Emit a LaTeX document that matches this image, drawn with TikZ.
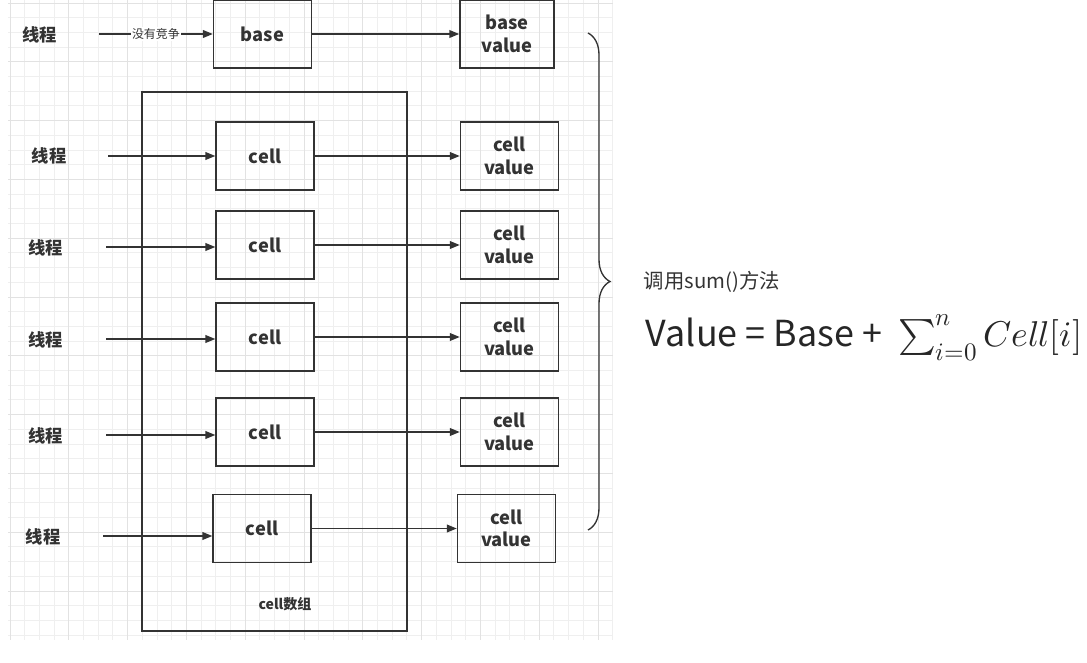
\documentclass[tikz,border=0pt]{standalone}
\usepackage{unicode-math}
\setmainfont{Noto Sans CJK SC}
\setmathfont{Latin Modern Math}
\usetikzlibrary{arrows.meta, decorations.pathreplacing, positioning}
\definecolor{ink}{HTML}{333333}
\definecolor{gridminor}{HTML}{EFEFEF}
\definecolor{gridmajor}{HTML}{E2E2E2}
\tikzset{box node/.style={rectangle,draw=ink,line width=0.95pt,minimum width=2.45cm,minimum height=1.7cm,inner sep=0pt,align=center,text=ink,font=\bfseries\fontsize{13}{16}\selectfont},
thread node/.style={text=ink,font=\bfseries\fontsize{12.3}{14}\selectfont},
link/.style={draw=ink,line width=0.95pt,-{Triangle[length=7pt,width=5.5pt]}},}

\begin{document}
\begin{tikzpicture}[x=0.025cm, y=-0.025cm]
       \useasboundingbox (0,0) rectangle (1087,663);
       % background grid
       \foreach \k in {0,...,41}
         \draw[gridminor, line width=0.6pt] ({10+\k*14.7},0) -- ({10+\k*14.7},640);
       \foreach \k in {0,...,43}
         \draw[gridminor, line width=0.6pt] (8,{3+\k*14.7}) -- (613,{3+\k*14.7});
       \foreach \k in {0,...,10}
         \draw[gridmajor, line width=0.6pt] ({10+\k*58.8},0) -- ({10+\k*58.8},640);
       \foreach \k in {0,...,10}
         \draw[gridmajor, line width=0.6pt] (8,{3+\k*58.8}) -- (613,{3+\k*58.8});

       \node[rectangle,draw=ink,line width=0.95pt,minimum width=6.625cm,minimum height=13.475cm] (arr) at (274.5,361.5) {};
       \node[text=ink,font=\bfseries\fontsize{10}{12}\selectfont] (arrlbl) at (285,604) {cell数组};

       \node[thread node] (t0) at (40,35) {线程};
       \node[box node] (base) at (262.5,34) {base};
       \node[box node, minimum width=2.35cm] (bv) [right = 3.675cm of base] {base\\value};

       \node[thread node] (t1) at (49,156) {线程};
       \node[thread node] (t2) at (46,248) {线程};
       \node[thread node] (t3) at (46,340) {线程};
       \node[thread node] (t4) at (46,436) {线程};
       \node[thread node] (t5) at (43,537) {线程};

       \node[box node] (c1) at (265,156) {cell};
       \node[box node] (c2) at (265,245) {cell};
       \node[box node] (c3) at (265,337) {cell};
       \node[box node] (c4) at (265,432) {cell};
       \node[box node] (c5) at (262,528.5) {cell};

       \node[box node] (v1) [right = 3.625cm of c1] {cell\\value};
       \node[box node] (v2) [right = 3.625cm of c2] {cell\\value};
       \node[box node] (v3) [right = 3.625cm of c3] {cell\\value};
       \node[box node] (v4) [right = 3.625cm of c4] {cell\\value};
       \node[box node] (v5) [right = 3.625cm of c5] {cell\\value};

       \coordinate (s0) at (99,34);
       \coordinate (s1) at (108,156);
       \coordinate (s2) at (106,247);
       \coordinate (s3) at (106,339);
       \coordinate (s4) at (106,435);
       \coordinate (s5) at (103,536);

       \draw[link] (s0) -- node[fill=white,inner sep=1pt,text=ink,font=\fontsize{8.5}{10}\selectfont]{没有竞争} (base);

       \path
       (base) edge[link] (bv)
       (s1) edge[link] (s1 -| c1.west)
       (s2) edge[link] (s2 -| c2.west)
       (s3) edge[link] (s3 -| c3.west)
       (s4) edge[link] (s4 -| c4.west)
       (s5) edge[link] (s5 -| c5.west)
       (c1) edge[link] (v1)
       (c2) edge[link] (v2)
       (c3) edge[link] (v3)
       (c4) edge[link] (v4)
       (c5) edge[link] (v5);

       \draw[ink, line width=0.95pt, decorate, decoration={brace, amplitude=0.55cm}] (588,33) -- (588,530);

       \node[anchor=west, text=ink, font=\fontsize{14.5}{16}\selectfont] (call) at (639,282) {调用sum()方法};
       \node[anchor=west, text=black!85, font=\fontsize{25.5}{28}\selectfont] (formula) at (641,338) {Value = Base + \ $\sum_{i=0}^{n} Cell[i]$};
    \end{tikzpicture}
\end{document}
